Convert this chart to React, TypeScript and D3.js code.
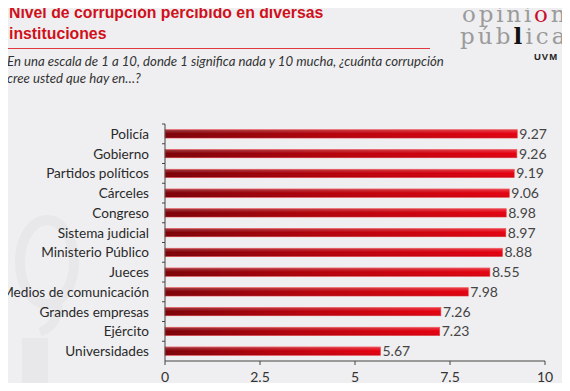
import React from "react";
import * as d3 from "d3";

const categories = [
  "Policía",
  "Gobierno",
  "Partidos políticos",
  "Cárceles",
  "Congreso",
  "Sistema judicial",
  "Ministerio Público",
  "Jueces",
  "Medios de comunicación",
  "Grandes empresas",
  "Ejército",
  "Universidades",
];
const values = [9.27, 9.26, 9.19, 9.06, 8.98, 8.97, 8.88, 8.55, 7.98, 7.26, 7.23, 5.67];
const tickValues = [0, 2.5, 5, 7.5, 10];

const W = 570;
const H = 391;
const left = 165;
const right = 545;
const top = 124;
const bottom = 361;

const App = () => {
  const x = d3.scaleLinear().domain([0, 10]).range([left, right]);
  const y = d3.scaleBand().domain(categories).range([top, bottom]).paddingInner(0.58).paddingOuter(0.29);
  const band = d3.scaleBand().domain(categories).range([top, bottom]);
  const bodyFont = "Lato, 'Open Sans', sans-serif";

  return (
    <div style={{ margin: -8, width: W, height: H, overflow: "hidden" }}>
      <svg width={W} height={H} style={{ display: "block", background: "#efeff1" }}>
        <defs>
          <linearGradient id="barGrad" x1="0" x2="1" y1="0" y2="0">
            <stop offset="0" stopColor="#7d0006" />
            <stop offset="0.5" stopColor="#b8000a" />
            <stop offset="1" stopColor="#e4000f" />
          </linearGradient>
          <linearGradient id="shine" x1="0" x2="0" y1="0" y2="1">
            <stop offset="0" stopColor="#fff" stopOpacity="0.25" />
            <stop offset="0.5" stopColor="#fff" stopOpacity="0" />
            <stop offset="1" stopColor="#000" stopOpacity="0.1" />
          </linearGradient>
        </defs>

        {/* faint watermark */}
        <g stroke="#e8e8eb" fill="none">
          <ellipse cx={47} cy={262} rx={27} ry={42} strokeWidth={10} />
          <path d="M58 300 Q60 325 40 332" strokeWidth={9} />
          <rect x={22} y={338} width={26} height={60} fill="#e8e8eb" stroke="none" />
        </g>

        {/* header */}
        <text x={9} y={18} fill="#d0101a" fontFamily="Liberation Sans, Arial, sans-serif" fontWeight="bold" fontSize={15.8}>
          Nivel de corrupción percibido en diversas
        </text>
        <text x={9} y={39} fill="#d0101a" fontFamily="Liberation Sans, Arial, sans-serif" fontWeight="bold" fontSize={15.8}>
          instituciones
        </text>
        <line x1={4} x2={430} y1={48.5} y2={48.5} stroke="#e0393f" strokeWidth={1.2} />
        <text x={7} y={66} fill="#333" fontFamily={bodyFont} fontStyle="italic" fontSize={13.2}>
          En una escala de 1 a 10, donde 1 significa nada y 10 mucha, ¿cuánta corrupción
        </text>
        <text x={7} y={83} fill="#333" fontFamily={bodyFont} fontStyle="italic" fontSize={13.2}>
          cree usted que hay en…?
        </text>

        {/* logo */}
        <g fontFamily="'DejaVu Serif', 'Liberation Serif', serif" fill="#9b9b9b">
          <text x={462} y={22} fontSize={23} letterSpacing={2.8}>
            opini<tspan fill="#c8102e">ó</tspan>n
          </text>
          <text x={460} y={44} fontSize={23} letterSpacing={3.1}>
            púb<tspan fill="#111" fontWeight="bold">l</tspan>ica
          </text>
          <text x={534} y={60} fontSize={9.5} fontWeight="bold" fontFamily="Liberation Sans, sans-serif" fill="#222" letterSpacing={1}>
            UVM
          </text>
        </g>

        {/* bars */}
        {categories.map((c, i) => (
          <g key={c}>
            <rect x={x(0)} y={y(c)} width={x(values[i]) - x(0)} height={y.bandwidth()} fill="url(#barGrad)" stroke="#f04048" strokeWidth={0.6} />
            <rect x={x(0)} y={y(c)} width={x(values[i]) - x(0)} height={y.bandwidth()} fill="url(#shine)" />
            <text x={x(values[i]) + 2} y={y(c)! + y.bandwidth() / 2} dy="0.36em" fill="#444" fontFamily={bodyFont} fontSize={14}>
              {values[i].toFixed(2)}
            </text>
            <text x={149} y={y(c)! + y.bandwidth() / 2} dy="0.36em" textAnchor="end" fill="#2a2a2a" fontFamily={bodyFont} fontSize={13.6}>
              {c}
            </text>
          </g>
        ))}

        {/* y axis */}
        <line x1={left} x2={left} y1={top} y2={bottom} stroke="#444" strokeWidth={1} />
        {categories.map((c) => (
          <line key={c} x1={left - 3} x2={left} y1={band(c)!} y2={band(c)!} stroke="#444" />
        ))}

        {/* x axis */}
        <line x1={left} x2={right} y1={bottom} y2={bottom} stroke="#444" strokeWidth={1} />
        {tickValues.map((t) => (
          <g key={t}>
            <line x1={x(t)} x2={x(t)} y1={bottom} y2={bottom + 4} stroke="#444" />
            <text x={x(t)} y={bottom + 21} textAnchor="middle" fill="#333" fontFamily={bodyFont} fontSize={14}>
              {t}
            </text>
          </g>
        ))}
      </svg>
    </div>
  );
};

export default App;
